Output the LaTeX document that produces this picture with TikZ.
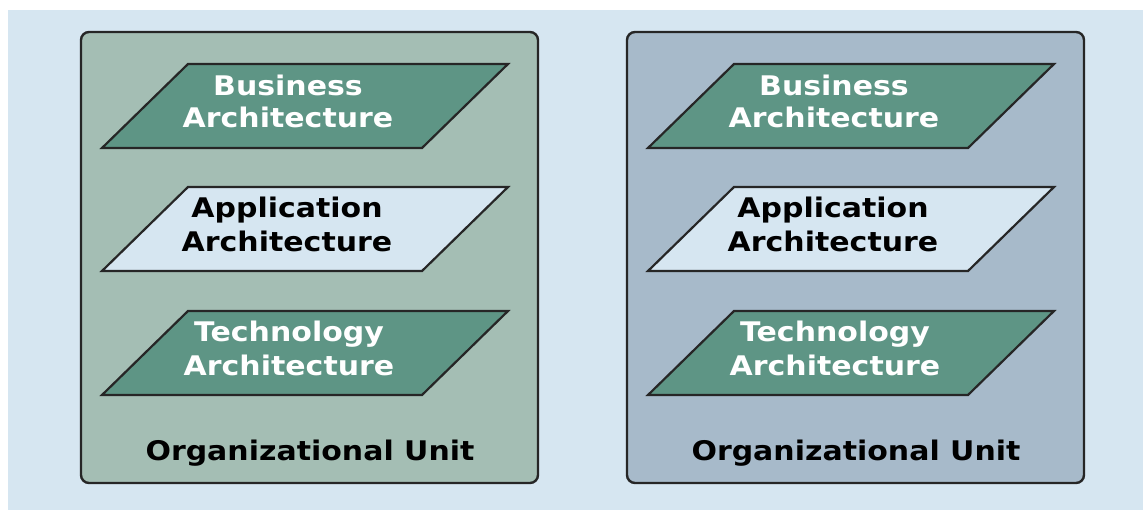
\documentclass[tikz,border=0pt]{standalone}
\usepackage{fontspec}
\setmainfont{DejaVu Sans}[BoldFeatures={FakeStretch=1.11}]
\begin{document}
\begin{tikzpicture}[x=1pt,y=-1pt,
  page/.style={fill=white},
  backdrop/.style={fill=bgblue},
  unitbox/.style={draw=frame,line width=2.4pt,rounded corners=8pt},
  layer/.style={draw=frame,line width=2.2pt,line join=miter},
  darklayer/.style={layer,fill=layergreen},
  lightlayer/.style={layer,fill=bgblue},
  layertext/.style={font=\bfseries\fontsize{27}{#1}\selectfont,align=center,inner sep=0pt,anchor=base},
  layertext/.default=34.5,
  unittext/.style={font=\bfseries\fontsize{27}{32}\selectfont,inner sep=0pt,anchor=base}
]
\definecolor{bgblue}{HTML}{D6E6F1}
\definecolor{greenunit}{HTML}{A4BEB4}
\definecolor{blueunit}{HTML}{A7BACA}
\definecolor{layergreen}{HTML}{5E9585}
\definecolor{frame}{HTML}{262626}

\useasboundingbox (0,0) rectangle (1143,510);
\fill[page] (0,0) rectangle (1143,510);
\fill[backdrop] (8,10) rectangle (1143,510);

% one organisational unit with its three architecture layers
% (label nodes sit on the baseline of their last line)
\foreach \dx/\col/\id in {0/greenunit/a, 546/blueunit/b} {
  \begin{scope}[xshift=\dx]
    \draw[unitbox,fill=\col] (81,32) rectangle (538,483);
    \draw[darklayer]  (188,64)  -- (508,64)  -- (422,148) -- (102,148) -- cycle;
    \draw[lightlayer] (188,187) -- (508,187) -- (422,271) -- (102,271) -- cycle;
    \draw[darklayer]  (188,311) -- (508,311) -- (422,395) -- (102,395) -- cycle;
    \node[layertext=32.5,text=white] (bus\id) at (288,128) {Business\\Architecture};
    \node[layertext,text=black] (app\id) at (287,252) {Application\\Architecture};
    \node[layertext,text=white] (tec\id) at (289,376) {Technology\\Architecture};
    \node[unittext] (unit\id) at (310,460) {Organizational Unit};
  \end{scope}
}
\end{tikzpicture}
\end{document}
